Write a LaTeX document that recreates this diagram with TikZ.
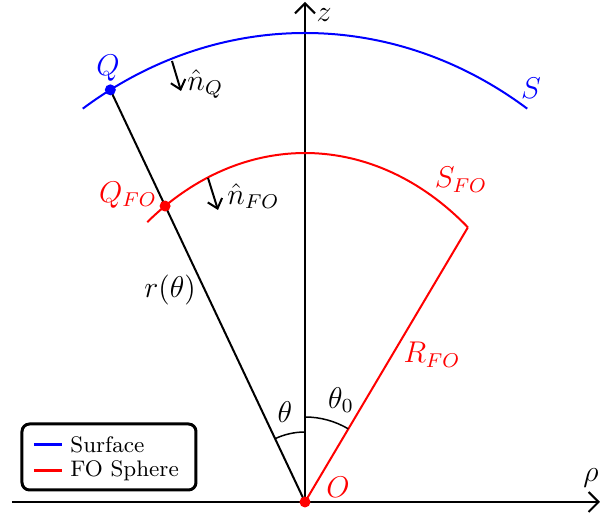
\documentclass[tikz,border=0pt]{standalone}
\usetikzlibrary{arrows.meta}
\begin{document}
\begin{tikzpicture}[
  x=0.4pt, y=0.4pt,
  every node/.style={font=\large},
  axis/.style={-{Straight Barb[length=4pt,width=8pt]}, line width=0.8pt},
  surf/.style={blue, line width=0.8pt},
  fosph/.style={red, line width=0.8pt},
  ray/.style={line width=0.8pt},
  normal/.style={-{Straight Barb[length=3.5pt,width=6pt]}, line width=0.8pt},
  dot/.style={circle, fill, inner sep=0pt, minimum size=4.4pt},
  legbox/.style={draw, line width=1.2pt, rounded corners=3pt},
  legline/.style={line width=1.2pt},
  legtxt/.style={anchor=west, font=\small, inner sep=0pt}
]
\useasboundingbox (-305,-15) rectangle (295,502);

% Points
\coordinate (o) at (0,0);
\coordinate (rhostart) at (-293,0);
\coordinate (rhoend) at (295,0);
\coordinate (zend) at (0,500);
\coordinate (q) at (118.5:408 and 469);
\coordinate (qfo) at (122:264 and 349);
\coordinate (sfoend) at (51.9:264 and 349);

% Axes
\draw[axis] (rhostart) -- (rhoend);
\draw[axis] (o) -- (zend);
\node (zlbl) at (19,487) {$z$};
\node[inner sep=1pt] (rholbl) at (286,24) {$\rho$};

% Surface and FO sphere
\draw[surf] (123:408 and 469) arc[start angle=123, end angle=57, x radius=408, y radius=469];
\draw[fosph] (126.7:264 and 349) arc[start angle=126.7, end angle=51.9, x radius=264, y radius=349];
\draw[fosph] (o) -- (sfoend);
\draw[ray] (o) -- (q);

% Angles
\draw[line width=0.6pt] (0,70) arc[start angle=90, end angle=115.3, radius=70];
\draw[line width=0.6pt] (0,85) arc[start angle=90, end angle=59.4, radius=85];
\node (th) at (-20,90) {$\theta$};
\node (th0) at (36,102) {$\theta_0$};

% Normals
\coordinate (nqa) at (-133,441);
\coordinate (nqb) at (-124,411);
\coordinate (nfa) at (-97,324);
\coordinate (nfb) at (-87,292);
\draw[normal] (nqa) -- (nqb);
\draw[normal] (nfa) -- (nfb);
\node[anchor=west, inner sep=0pt] (nqlbl) at (-118,418) {$\hat{n}_Q$};
\node[anchor=west, inner sep=0pt] (nflbl) at (-78,306) {$\hat{n}_{FO}$};

% Dots
\node[dot, blue] (qdot) at (q) {};
\node[dot, red] (qfodot) at (qfo) {};
\node[dot, red] (odot) at (o) {};

% Labels
\node[blue] (qlbl) at (-197,434) {$Q$};
\node[red] (qfolbl) at (-177,307) {$Q_{FO}$};
\node[blue] (slbl) at (226,414) {$S$};
\node[red] (sfolbl) at (156,322) {$S_{FO}$};
\node (rlbl) at (-135,212) {$r(\theta)$};
\node[red] (rfolbl) at (127,147) {$R_{FO}$};
\node[red] (olbl) at (33,15) {$O$};

% Legend
\draw[legbox] (-283,12) rectangle (-109,78);
\coordinate (l1a) at (-271,57);
\coordinate (l1b) at (-243,57);
\coordinate (l2a) at (-271,31);
\coordinate (l2b) at (-243,31);
\draw[legline, blue] (l1a) -- (l1b);
\draw[legline, red] (l2a) -- (l2b);
\node[legtxt] (leg1) at (-235,57) {Surface};
\node[legtxt] (leg2) at (-235,31) {FO Sphere};
\end{tikzpicture}
\end{document}
